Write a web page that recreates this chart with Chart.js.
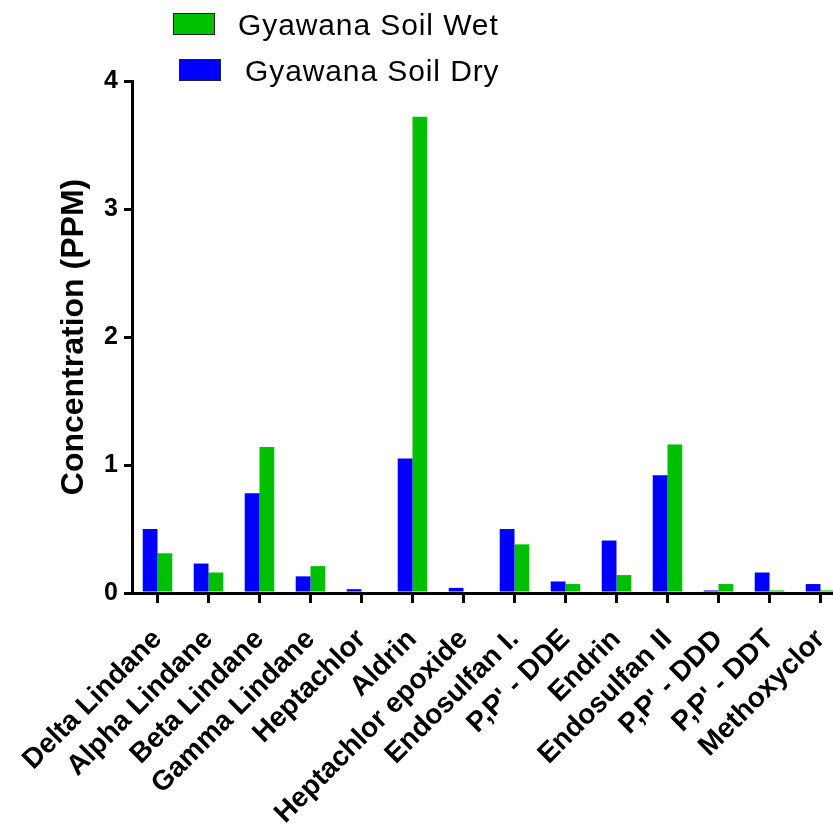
<!DOCTYPE html>
<html>
<head>
<meta charset="utf-8">
<script src="https://cdn.jsdelivr.net/npm/chart.js@4.4.1/dist/chart.umd.min.js"></script>
<style>
  html, body { margin: 0; padding: 0; background: #fff; overflow: hidden; }
  #wrap { position: relative; width: 860px; height: 829px; }
</style>
</head>
<body>
<div id="wrap"><canvas id="c"></canvas></div>
<script>
const categories = ["Delta Lindane", "Alpha Lindane", "Beta Lindane", "Gamma Lindane", "Heptachlor", "Aldrin",
  "Heptachlor epoxide", "Endosulfan I.", "P,P' - DDE", "Endrin", "Endosulfan II", "P,P' - DDD", "P,P' - DDT", "Methoxyclor"];
const dryValues = [0.50, 0.23, 0.78, 0.13, 0.03, 1.05, 0.04, 0.50, 0.09, 0.41, 0.92, 0.02, 0.16, 0.07];
const wetValues = [0.31, 0.16, 1.14, 0.21, 0.00, 3.72, 0.00, 0.38, 0.07, 0.14, 1.16, 0.07, 0.02, 0.02];
const yTicks = [0, 1, 2, 3, 4];
const seriesNames = ["Gyawana Soil Dry", "Gyawana Soil Wet"];
const legendOrder = ["Gyawana Soil Wet", "Gyawana Soil Dry"];

const BLUE = "#0000FF";
const GREEN = "#00C000";
const FONT = 'Arial, "Liberation Sans", sans-serif';

const legendPlugin = {
  id: 'customLegend',
  afterDraw(chart) {
    const ctx = chart.ctx;
    const items = [
      { label: legendOrder[0], color: GREEN, bx: 173, by: 13, tx: 238, ty: 35 },
      { label: legendOrder[1], color: BLUE, bx: 179, by: 59, tx: 245, ty: 81 }
    ];
    ctx.save();
    items.forEach(it => {
      ctx.fillStyle = it.color;
      ctx.fillRect(it.bx, it.by, 42, 22);
      ctx.strokeStyle = "#222";
      ctx.lineWidth = 1;
      ctx.strokeRect(it.bx + 0.5, it.by + 0.5, 41, 21);
      ctx.fillStyle = "#000";
      ctx.font = "30px " + FONT;
      try { ctx.letterSpacing = "0.9px"; } catch (e) {}
      ctx.textBaseline = "alphabetic";
      ctx.textAlign = "left";
      ctx.fillText(it.label, it.tx, it.ty);
    });
    ctx.restore();
  }
};

new Chart(document.getElementById('c'), {
  type: 'bar',
  data: {
    labels: categories,
    datasets: [
      { label: seriesNames[0], data: dryValues, backgroundColor: BLUE, borderWidth: 0 },
      { label: seriesNames[1], data: wetValues, backgroundColor: GREEN, borderWidth: 0 }
    ]
  },
  options: {
    responsive: true,
    maintainAspectRatio: false,
    animation: false,
    devicePixelRatio: 1,
    layout: { padding: { top: 81, right: 14, left: 0, bottom: 0 } },
    datasets: { bar: { categoryPercentage: 0.58, barPercentage: 1.0 } },
    plugins: { legend: { display: false }, tooltip: { enabled: false } },
    scales: {
      x: {
        z: 1,
        offset: true,
        grid: { display: true, drawOnChartArea: false, offset: false, tickLength: 10, lineWidth: 3, color: '#000' },
        border: { display: true, color: '#000', width: 3 },
        ticks: {
          autoSkip: false, minRotation: 45, maxRotation: 45, color: '#000', padding: 20,
          font: { family: FONT, size: 28, weight: 'bold' }
        },
        afterFit(scale) { scale.height = 236; scale.paddingLeft = 0; scale.paddingRight = 0; }
      },
      y: {
        z: 1,
        min: 0, max: 4,
        afterBuildTicks(scale) { scale.ticks = yTicks.map(v => ({ value: v })); },
        grid: { display: true, drawOnChartArea: false, tickLength: 8, lineWidth: 3, color: '#000' },
        border: { display: true, color: '#000', width: 3 },
        ticks: { color: '#000', padding: 6, font: { family: FONT, size: 25, weight: 'bold' } },
        title: {
          display: true, text: 'Concentration (PPM)', color: '#000',
          font: { family: FONT, size: 32, weight: 'bold' },
          padding: { top: 55, bottom: 0 }
        },
        afterFit(scale) { scale.width = 132; scale.paddingTop = 0; scale.paddingBottom = 0; }
      }
    }
  },
  plugins: [legendPlugin]
});
</script>
</body>
</html>
